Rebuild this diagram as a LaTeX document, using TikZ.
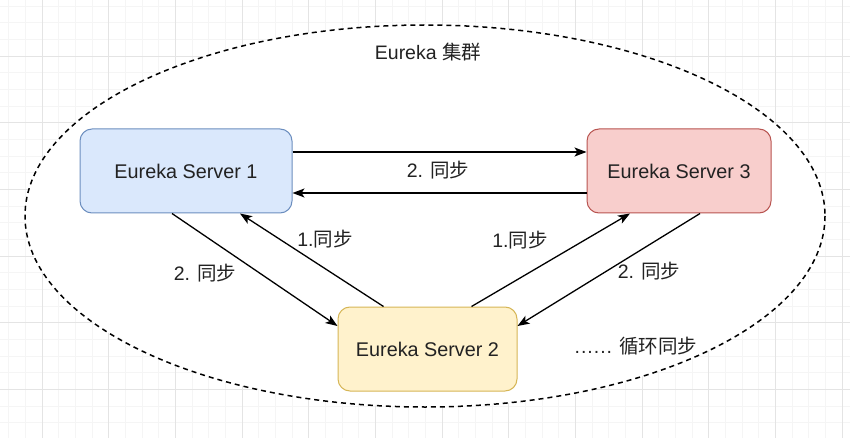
\documentclass[tikz,border=0pt]{standalone}
\usepackage{fontspec}
\setmainfont{Liberation Sans}
\newfontfamily\cjk{Noto Sans CJK SC}
\usetikzlibrary{arrows.meta}
\definecolor{bluefill}{HTML}{DAE8FC}
\definecolor{bluedraw}{HTML}{6C8EBF}
\definecolor{redfill}{HTML}{F8CECC}
\definecolor{reddraw}{HTML}{B85450}
\definecolor{yelfill}{HTML}{FFF2CC}
\definecolor{yeldraw}{HTML}{D6B656}
\definecolor{gridmajor}{HTML}{E4E4E4}
\definecolor{gridminor}{HTML}{F5F5F5}
\definecolor{txt}{HTML}{222222}
\begin{document}
\begin{tikzpicture}[x=1pt,y=-1pt,
  server/.style={draw, rounded corners=12pt, line width=1pt, minimum width=#1, minimum height=84pt, font=\fontsize{19.8}{23}\selectfont, text=txt},
  conn/.style={line width=1.3pt, -{Stealth[length=12pt,width=9pt,inset=3pt]}},
  lbl/.style={font=\fontsize{19.5}{22}\selectfont, text=txt, inner sep=0pt},
  cluster/.style={dashed, dash pattern=on 5pt off 4pt, line width=1.5pt, fill=white}]
\useasboundingbox (0,0) rectangle (850,438);
\fill[white] (0,0) rectangle (850,438);
% grid
\foreach \i in {0,...,50} \draw[gridminor, line width=0.6pt] ({8.67+16.667*\i},0) -- ++(0,438);
\foreach \i in {0,...,26} \draw[gridminor, line width=0.6pt] (0,{6+16.667*\i}) -- ++(850,0);
\foreach \i in {0,...,12} \draw[gridmajor, line width=0.8pt] ({42+66.667*\i},0) -- ++(0,438);
\foreach \i in {0,...,5} \draw[gridmajor, line width=0.8pt] (0,{56+66.667*\i}) -- ++(850,0);
% cluster
\draw[cluster] (425,216) ellipse [x radius=400, y radius=191];
\node[lbl] (title) at (428,52) {Eureka {\cjk 集群}};
% servers
\node[server=212pt, fill=bluefill, draw=bluedraw] (s1) at (186,171) {Eureka Server 1};
\node[server=184pt, fill=redfill, draw=reddraw] (s3) at (679,171) {Eureka Server 3};
\node[server=179pt, fill=yelfill, draw=yeldraw] (s2) at (427.5,349) {Eureka Server 2};
% connectors
\draw[conn] ([yshift=19pt]s1.east) -- ([yshift=19pt]s3.west);
\draw[conn] ([yshift=-22pt]s3.west) -- ([yshift=-22pt]s1.east);
\draw[conn] ([xshift=-14pt]s1.south) -- ([yshift=23pt]s2.west);
\draw[conn] ([xshift=-44pt]s2.north) -- ([xshift=54pt]s1.south);
\draw[conn] ([xshift=44pt]s2.north) -- ([xshift=-49pt]s3.south);
\draw[conn] ([xshift=21pt]s3.south) -- ([yshift=23pt]s2.east);
% labels
\node[lbl] (l1) at (438,170) {2. {\cjk 同步}};
\node[lbl] (l2) at (325,239) {1.{\cjk 同步}};
\node[lbl] (l3) at (205,273) {2. {\cjk 同步}};
\node[lbl] (l4) at (520,240) {1.{\cjk 同步}};
\node[lbl] (l5) at (649,271) {2. {\cjk 同步}};
\node[lbl] (l6) at (636,346) {.\kern1pt.\kern1pt.\kern1pt.\kern1pt.\kern1pt. {\cjk 循环同步}};
\end{tikzpicture}
\end{document}
